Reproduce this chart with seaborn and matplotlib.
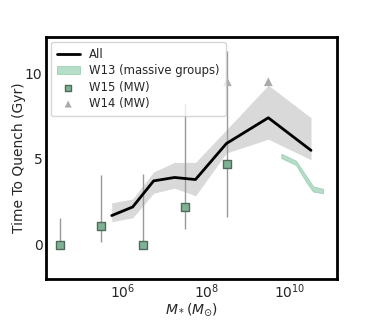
import numpy as np
import pandas as pd
import matplotlib
matplotlib.use("Agg")
import matplotlib.pyplot as plt
import seaborn as sns

# "All" median line with shaded spread (log10 stellar mass)
all_logm = [5.74, 6.24, 6.74, 7.24, 7.74, 8.48, 9.48, 10.5]
all_t = [1.7, 2.2, 3.72, 3.92, 3.8, 5.9, 7.4, 5.5]
all_lo = [1.34, 1.57, 3.0, 3.3, 2.85, 5.35, 6.15, 4.95]
all_hi = [2.44, 2.67, 4.24, 4.8, 4.8, 6.7, 9.3, 7.4]

# W13 (massive groups) band
w13_logm = [9.79, 10.14, 10.4, 10.55, 10.79]
w13_lo = [5.05, 4.65, 3.6, 3.1, 3.0]
w13_hi = [5.3, 4.9, 3.95, 3.4, 3.25]

# W15 (MW) points with error bars
w15_logm = [4.5, 5.48, 6.48, 7.48, 8.5]
w15_t = [0.0, 1.1, 0.0, 2.2, 4.7]
w15_lo = [0.0, 0.17, 0.0, 0.93, 1.63]
w15_hi = [1.57, 4.07, 4.1, 8.2, 11.3]

# W14 (MW) points
w14_logm = [8.5, 9.48]
w14_t = [9.5, 9.5]

sns.set_style("white")
plt.rcParams["font.family"] = ["DejaVu Sans"]

fig = plt.figure(figsize=(3.74, 3.2), dpi=100)
ax = fig.add_axes([0.123, 0.128, 0.778, 0.756])

all_m = 10 ** np.array(all_logm)
ax.fill_between(all_m, all_lo, all_hi, color="#d9d9d9", lw=0, zorder=1)
sns.lineplot(x=all_m, y=all_t, color="black", lw=2, ax=ax, zorder=3, label="All")

w13_m = 10 ** np.array(w13_logm)
ax.fill_between(w13_m, w13_lo, w13_hi, color="#a3d5ba", alpha=0.8,
                edgecolor="#8fcaa9", lw=0.6, zorder=2, label="W13 (massive groups)")

w15_m = 10 ** np.array(w15_logm)
w15_t = np.array(w15_t)
yerr = [w15_t - np.array(w15_lo), np.array(w15_hi) - w15_t]
ax.errorbar(w15_m, w15_t, yerr=yerr, fmt="none", ecolor="#999999", elinewidth=1, zorder=2)
w15_df = pd.DataFrame({"m": w15_m, "t": w15_t})
sns.scatterplot(data=w15_df, x="m", y="t", marker="s", s=36, color="#7fb294",
                edgecolor="#4f6b5b", linewidth=1, ax=ax, zorder=4, label="W15 (MW)")

w14_df = pd.DataFrame({"m": 10 ** np.array(w14_logm), "t": w14_t})
sns.scatterplot(data=w14_df, x="m", y="t", marker="^", s=40, color="#aaaaaa",
                edgecolor="none", ax=ax, zorder=4, label="W14 (MW)")

ax.set_xscale("log")
ax.set_xlim(10 ** 4.17, 10 ** 11.12)
ax.set_ylim(-2, 12.1)
ax.set_xticks([1e6, 1e8, 1e10])
ax.xaxis.set_minor_locator(matplotlib.ticker.NullLocator())
ax.set_yticks([0, 5, 10])
ax.tick_params(labelsize=10, length=0, pad=2.5)

for sp in ax.spines.values():
    sp.set_linewidth(2)
    sp.set_color("black")

ax.set_xlabel(r"$M_*(M_{\odot})$", fontsize=10, labelpad=0)
ax.set_ylabel("Time To Quench (Gyr)", fontsize=10, labelpad=-1)

ax.legend(loc="upper left", fontsize=8.4, frameon=True, borderaxespad=0.4,
          borderpad=0.5, labelspacing=0.3, markerscale=0.8)

fig.savefig("out.png", dpi=100)
